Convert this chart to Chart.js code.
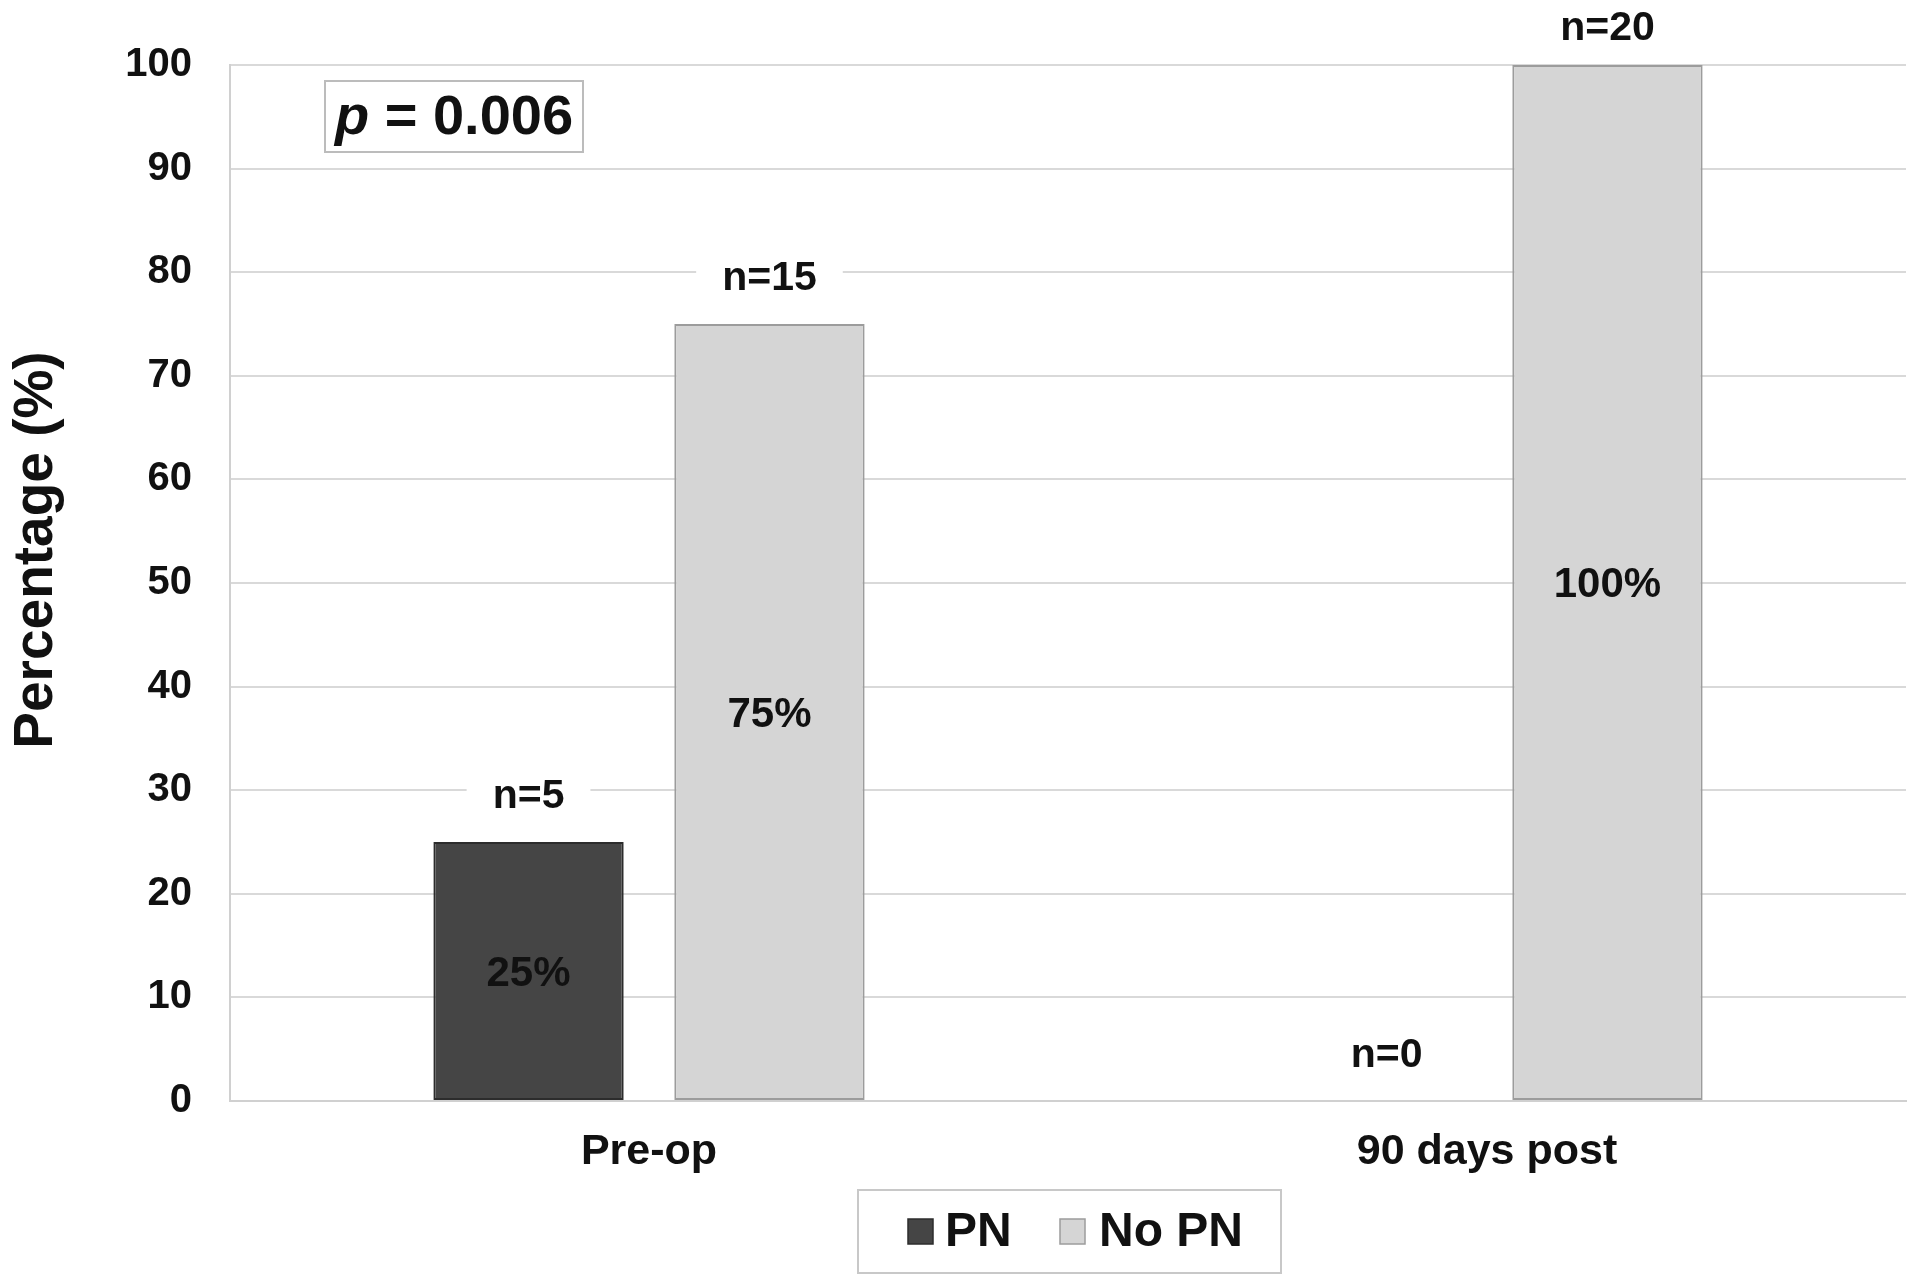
<!DOCTYPE html>
<html>
<head>
<meta charset="utf-8">
<script src="https://cdn.jsdelivr.net/npm/chart.js@4/dist/chart.umd.min.js"></script>
<style>
  html, body { margin: 0; padding: 0; background: #ffffff; }
  #wrap { width: 1920px; height: 1288px; }
</style>
</head>
<body>
<div id="wrap"><canvas id="c" width="1920" height="1288"></canvas></div>
<script>
// ---- data ----
const categories = ['Pre-op', '90 days post'];
const seriesNames = ['PN', 'No PN'];
const pnValues = [25, 0];
const noPnValues = [75, 100];
const pnCounts = [5, 0];
const noPnCounts = [15, 20];
const yAxisTitle = 'Percentage (%)';
const pValueText = ['p', ' = 0.006'];
const yMin = 0, yMax = 100, yStep = 10;

const FONT = '"Liberation Sans", Arial, Helvetica, sans-serif';
const fillColors = ['#454545', '#d5d5d5'];
const borderColors = ['#2c2c2c', '#9c9c9c'];

const annotPlugin = {
  id: 'annot',
  afterDatasetsDraw(chart) {
    const ctx = chart.ctx;
    const counts = [pnCounts, noPnCounts];
    ctx.save();
    ctx.textAlign = 'center';
    ctx.textBaseline = 'middle';
    chart.data.datasets.forEach((ds, i) => {
      const meta = chart.getDatasetMeta(i);
      meta.data.forEach((bar, j) => {
        const v = ds.data[j];
        ctx.font = 'bold 41px ' + FONT;
        const txt = 'n=' + counts[i][j];
        const nY = Math.max(bar.y - 47, 27);
        const nX = v === 0 ? bar.x + 20 : bar.x;
        const w = ctx.measureText(txt).width;
        ctx.fillStyle = '#ffffff';
        ctx.fillRect(nX - w / 2 - 26, nY - 24, w + 52, 48);
        ctx.fillStyle = '#111111';
        ctx.fillText(txt, nX, nY + 2);
        if (v > 0) {
          ctx.font = 'bold 42px ' + FONT;
          ctx.fillText(v + '%', bar.x, (bar.y + bar.base) / 2 + 3);
        }
      });
    });
    ctx.restore();
  },
  afterDraw(chart) {
    const ctx = chart.ctx;
    ctx.save();
    // y-axis title
    ctx.fillStyle = '#111111';
    ctx.font = 'bold 55px ' + FONT;
    ctx.textAlign = 'center';
    ctx.textBaseline = 'middle';
    ctx.translate(37, 550);
    ctx.rotate(-Math.PI / 2);
    ctx.fillText(yAxisTitle, 0, 0);
    ctx.setTransform(1, 0, 0, 1, 0, 0);

    // p-value box
    ctx.fillStyle = '#ffffff';
    ctx.fillRect(325, 81, 258, 71);
    ctx.strokeStyle = '#bcbcbc';
    ctx.lineWidth = 2;
    ctx.strokeRect(325, 81, 258, 71);
    ctx.fillStyle = '#111111';
    ctx.textAlign = 'left';
    ctx.font = 'italic bold 56px ' + FONT;
    const w1 = ctx.measureText(pValueText[0]).width;
    ctx.font = 'bold 56px ' + FONT;
    const w2 = ctx.measureText(pValueText[1]).width;
    let x0 = 454 - (w1 + w2) / 2;
    ctx.font = 'italic bold 56px ' + FONT;
    ctx.fillText(pValueText[0], x0, 119);
    ctx.font = 'bold 56px ' + FONT;
    ctx.fillText(pValueText[1], x0 + w1, 119);

    // legend
    ctx.strokeStyle = '#c8c8c8';
    ctx.lineWidth = 2;
    ctx.strokeRect(858, 1190, 423, 83);
    const sqX = [908, 1060];
    const txX = [945, 1099];
    chart.data.datasets.forEach((ds, i) => {
      ctx.fillStyle = fillColors[i];
      ctx.fillRect(sqX[i], 1219, 25, 25);
      ctx.strokeStyle = borderColors[i];
      ctx.lineWidth = 1.5;
      ctx.strokeRect(sqX[i], 1219, 25, 25);
      ctx.fillStyle = '#111111';
      ctx.font = 'bold 48px ' + FONT;
      ctx.textBaseline = 'middle';
      ctx.fillText(ds.label, txX[i], 1233);
    });
    ctx.restore();
  }
};

new Chart(document.getElementById('c'), {
  type: 'bar',
  data: {
    labels: categories,
    datasets: [
      {
        label: seriesNames[0],
        data: pnValues,
        backgroundColor: fillColors[0],
        borderColor: borderColors[0],
        borderWidth: (c) => (c.raw === 0 ? 0 : 2),
        borderSkipped: false,
        categoryPercentage: 0.575,
        barPercentage: 0.79
      },
      {
        label: seriesNames[1],
        data: noPnValues,
        backgroundColor: fillColors[1],
        borderColor: borderColors[1],
        borderWidth: (c) => (c.raw === 0 ? 0 : 2),
        borderSkipped: false,
        categoryPercentage: 0.575,
        barPercentage: 0.79
      }
    ]
  },
  options: {
    responsive: false,
    animation: false,
    layout: { padding: { top: 65, right: 14, left: 0, bottom: 0 } },
    plugins: { legend: { display: false }, tooltip: { enabled: false } },
    scales: {
      x: {
        grid: { color: 'rgba(0,0,0,0)', drawTicks: false },
        border: { color: '#d0d0d0', width: 2 },
        ticks: { font: { family: FONT, size: 43, weight: 'bold' }, color: '#111111', padding: 25 },
        afterFit: (s) => { s.height = 187; }
      },
      y: {
        min: yMin,
        max: yMax,
        ticks: { stepSize: yStep, font: { family: FONT, size: 40, weight: 'bold' }, color: '#111111', padding: 38 },
        grid: { color: '#d9d9d9', lineWidth: 2, drawTicks: false },
        border: { color: '#d0d0d0', width: 2 },
        afterFit: (s) => { s.width = 230; }
      }
    }
  },
  plugins: [annotPlugin]
});
</script>
</body>
</html>
